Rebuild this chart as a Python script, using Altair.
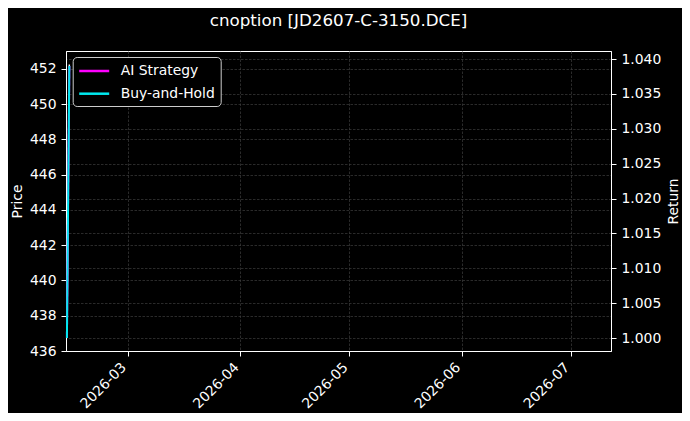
import altair as alt
import pandas as pd

# ---- data ----
dates = ["2026-02-12T06:00:00", "2026-02-12T22:00:00"]
price = [436.8, 452.25]
ai_strategy = [1.000, 1.039]
buy_and_hold = [1.000, 1.039]

series_names = ["AI Strategy", "Buy-and-Hold"]
series_colors = ["#ff00ff", "#00e8ee"]

price_ticks = [436, 438, 440, 442, 444, 446, 448, 450, 452]
return_ticks = [1.000, 1.005, 1.010, 1.015, 1.020, 1.025, 1.030, 1.035, 1.040]
month_ticks = [(2026, 3), (2026, 4), (2026, 5), (2026, 6), (2026, 7)]

price_domain = [436.0, 453.02]
return_domain = [0.99814, 1.04115]

title_text = "cnoption [JD2607-C-3150.DCE]"
FONT = "DejaVu Sans"

price_df = pd.DataFrame({"date": dates, "price": price})
ret_df = pd.DataFrame({
    "date": dates + dates,
    "series": [series_names[0]] * len(dates) + [series_names[1]] * len(dates),
    "value": ai_strategy + buy_and_hold,
})

x_enc = alt.X(
    "date:T",
    title=None,
    scale=alt.Scale(domain=[alt.DateTime(year=2026, month=2, date=12),
                            alt.DateTime(year=2026, month=7, date=12)]),
    axis=alt.Axis(
        values=[alt.DateTime(year=y, month=m, date=1) for y, m in month_ticks],
        format="%Y-%m",
        labelAngle=315,
        labelAlign="right",
        labelBaseline="middle",
        labelPadding=9,
        labelOffset=-4,
        grid=True,
    ),
)

price_layer = alt.Chart(price_df).mark_line(color="white", strokeWidth=1.5).encode(
    x=x_enc,
    y=alt.Y(
        "price:Q",
        scale=alt.Scale(domain=price_domain, nice=False, zero=False),
        axis=alt.Axis(
            values=price_ticks,
            format="d",
            title="Price",
            orient="left",
            grid=True,
            titleAngle=270,
            titleX=-49,
            titleY=150,
            titleAlign="center",
            titleBaseline="middle",
        ),
    ),
)

ret_layer = alt.Chart(ret_df).mark_line(strokeWidth=2).encode(
    x=x_enc,
    y=alt.Y(
        "value:Q",
        scale=alt.Scale(domain=return_domain, nice=False, zero=False),
        axis=alt.Axis(
            values=return_ticks,
            format=".3f",
            title="Return",
            orient="right",
            grid=True,
            titleAngle=270,
            titleX=62,
            titleY=150,
            titleAlign="center",
            titleBaseline="middle",
        ),
    ),
    color=alt.Color(
        "series:N",
        scale=alt.Scale(domain=series_names, range=series_colors),
        legend=alt.Legend(title=None, orient="none", legendX=6.7, legendY=6),
    ),
)

chart = (
    alt.layer(price_layer, ret_layer)
    .resolve_scale(y="independent")
    .properties(
        width=545,
        height=300,
        padding={"left": 58, "top": 43, "right": 71, "bottom": 62},
        autosize=alt.AutoSizeParams(type="none"),
        title=alt.TitleParams(
            text=title_text,
            font=FONT,
            fontSize=16.7,
            fontWeight="normal",
            color="white",
            anchor="middle",
            frame="group",
            baseline="alphabetic",
            offset=8,
        ),
    )
    .configure(background="#000000")
    .configure_view(stroke="white", strokeWidth=1, fill="#000000")
    .configure_axis(
        labelColor="white",
        labelFont=FONT,
        labelFontSize=13.9,
        labelPadding=5,
        tickColor="white",
        tickSize=5,
        tickWidth=1,
        domainColor="white",
        domainWidth=1,
        gridColor="#3c3c3c",
        gridDash=[2.5, 1.5],
        gridWidth=0.7,
        titleColor="white",
        titleFont=FONT,
        titleFontSize=13.9,
        titleFontWeight="normal",
    )
    .configure_legend(
        fillColor="#000000",
        strokeColor="#cccccc",
        cornerRadius=4,
        padding=5,
        symbolType="M-1,0L3,0",
        symbolSize=225,
        symbolStrokeWidth=2.5,
        labelColor="white",
        labelFont=FONT,
        labelFontSize=13.9,
        labelOffset=25,
        rowPadding=6.7,
    )
)

chart.save("out.html", embed_options={"renderer": "svg", "actions": False})
